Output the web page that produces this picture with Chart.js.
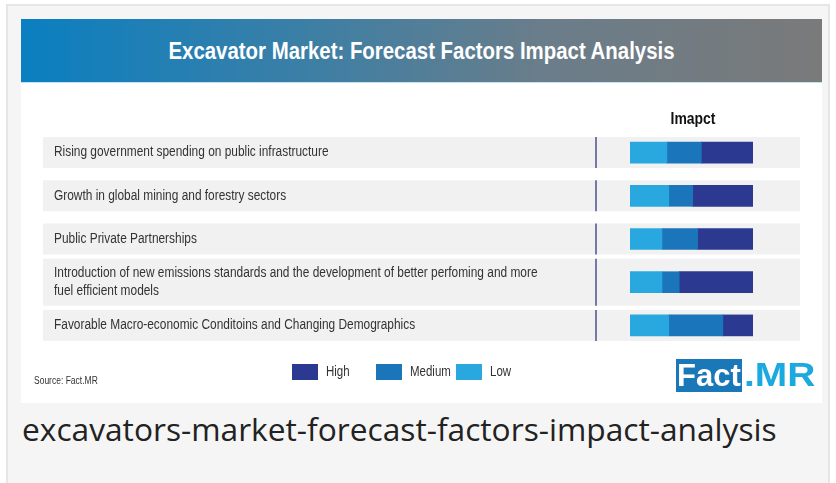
<!DOCTYPE html>
<html>
<head>
<meta charset="utf-8">
<script src="https://cdn.jsdelivr.net/npm/chart.js@4/dist/chart.umd.min.js"></script>
<style>
  body { margin: 0; background: #fff; width: 836px; height: 483px; overflow: hidden; position: relative; }
  .frame { position: absolute; left: 6px; top: 4px; width: 824px; height: 490px; background: #f5f5f5; border: 2px solid #e6e6e6; box-sizing: border-box; }
  .card { position: absolute; left: 21px; top: 19px; width: 801px; height: 384px; background: #fff; }
  .banner { position: absolute; left: 0; top: 0; width: 801px; height: 64px;
    background: linear-gradient(to right, #0a7fc1 0%, #3b7fa6 35%, #6a7d8a 65%, #7a7a7a 100%);
    border-bottom: 1px solid #bfe3f3; box-sizing: border-box; }
  .banner span { position: absolute; left: 0; right: 0; top: 18px; text-align: center; color: #fff;
    font: bold 24px "Liberation Sans", sans-serif; transform: scaleX(0.85); }
  #wrap { position: absolute; left: 0; top: 64px; width: 801px; height: 320px; }
  .legend { position: absolute; top: 344px; left: 271px; font: 14px "Liberation Sans", sans-serif; color: #333; }
  .legend div { position: absolute; top: 0; white-space: nowrap; }
  .legend i { display: inline-block; width: 26px; height: 16px; vertical-align: -4px; margin-right: 8px; }
  .legend b { font-weight: normal; display: inline-block; transform: scaleX(0.82); transform-origin: left center; }
  .source { position: absolute; left: 13px; top: 356px; font: 10px "Liberation Sans", sans-serif; color: #333; transform: scaleX(0.85); transform-origin: left center; }
  .logo { position: absolute; left: 655px; top: 337px; font: bold 31px "Liberation Sans", sans-serif; white-space: nowrap; }
  .logo .f { background: #1a78b8; color: #fff; padding: 0 1px; display: inline-block; height: 33px; line-height: 33px; }
  .logo .m { color: #1ba9e0; margin-left: 2px; display: inline-block; font-size: 33px; transform: scaleX(1.18); transform-origin: left center; }
  .caption { position: absolute; left: 22px; top: 407px; font: 31.7px "Open Sans", sans-serif; color: #222; white-space: nowrap; }
</style>
</head>
<body>
<div class="frame"></div>
<div class="card">
  <div class="banner"><span>Excavator Market: Forecast Factors Impact Analysis</span></div>
  <div id="wrap"><canvas id="impactChart"></canvas></div>
  <div class="source">Source: Fact.MR</div>
  <div class="legend" id="legend"></div>
  <div class="logo"><span class="f">Fact</span><span class="m">.MR</span></div>
</div>
<div class="caption">excavators-market-forecast-factors-impact-analysis</div>
<script>
const factors = [
  'Rising government spending on public infrastructure',
  'Growth in global mining and forestry sectors',
  'Public Private Partnerships',
  ['Introduction of new emissions standards and the development of better perfoming and more', 'fuel efficient models'],
  'Favorable Macro-economic Conditoins and Changing Demographics'
];
const lowImpact = [30, 31.5, 26, 26, 31.5];
const mediumImpact = [28, 19.5, 29, 14, 44];
const highImpact = [42, 49, 45, 60, 24.5];

const colors = { High: '#2b3990', Medium: '#1b75bb', Low: '#29a8e0' };

const dataBar = {
  labels: factors,
  datasets: [
    { label: 'Low', data: lowImpact, backgroundColor: colors.Low },
    { label: 'Medium', data: mediumImpact, backgroundColor: colors.Medium },
    { label: 'High', data: highImpact, backgroundColor: colors.High }
  ]
};

// narrow text: no condensed font here, so squeeze it
function narrowText(ctx, t, x, y, sx) {
  ctx.save();
  ctx.translate(x, y);
  ctx.scale(sx, 1);
  ctx.fillText(t, 0, 0);
  ctx.restore();
}

// row boxes, labels and divider drawn behind the bars
const rowPlugin = {
  id: 'rows',
  beforeDatasetsDraw(chart) {
    const ctx = chart.ctx;
    const yScale = chart.scales.y;
    ctx.save();
    factors.forEach((lab, i) => {
      const lines = Array.isArray(lab) ? lab : [lab];
      const cy = yScale.getPixelForValue(i);
      const h = lines.length > 1 ? 47 : 31;
      ctx.fillStyle = '#f1f1f1';
      ctx.fillRect(22, cy - h / 2, 757, h);
      ctx.strokeStyle = '#4e4f8e';
      ctx.lineWidth = 1.5;
      ctx.beginPath();
      ctx.moveTo(575, cy - h / 2);
      ctx.lineTo(575, cy + h / 2);
      ctx.stroke();
      ctx.fillStyle = '#333';
      ctx.font = '14px "Liberation Sans", sans-serif';
      ctx.textBaseline = 'middle';
      ctx.textAlign = 'left';
      lines.forEach((t, j) => {
        narrowText(ctx, t, 33, cy + (j - (lines.length - 1) / 2) * 18, 0.85);
      });
    });
    ctx.fillStyle = '#111';
    ctx.font = 'bold 17px "Liberation Sans", sans-serif';
    ctx.textAlign = 'center';
    narrowText(ctx, 'Imapct', 672, 36, 0.82);
    ctx.restore();
  }
};

const config = {
  type: 'bar',
  data: dataBar,
  options: {
    indexAxis: 'y',
    responsive: true,
    maintainAspectRatio: false,
    animation: false,
    layout: { padding: { left: 609, right: 69, top: 48, bottom: 56 } },
    barThickness: 21,
    scales: {
      x: { stacked: true, min: 0, max: 100, display: false },
      y: { stacked: true, display: false }
    },
    plugins: { legend: { display: false }, tooltip: { enabled: false } }
  },
  plugins: [rowPlugin]
};
const impactChart = new Chart(document.getElementById('impactChart'), config);

// legend in reverse order: High, Medium, Low
const legendPos = [0, 84, 164];
const legendEl = document.getElementById('legend');
dataBar.datasets.slice().reverse().forEach((ds, i) => {
  const d = document.createElement('div');
  d.style.left = legendPos[i] + 'px';
  d.innerHTML = '<i style="background:' + ds.backgroundColor + '"></i><b>' + ds.label + '</b>';
  legendEl.appendChild(d);
});
</script>
</body>
</html>
